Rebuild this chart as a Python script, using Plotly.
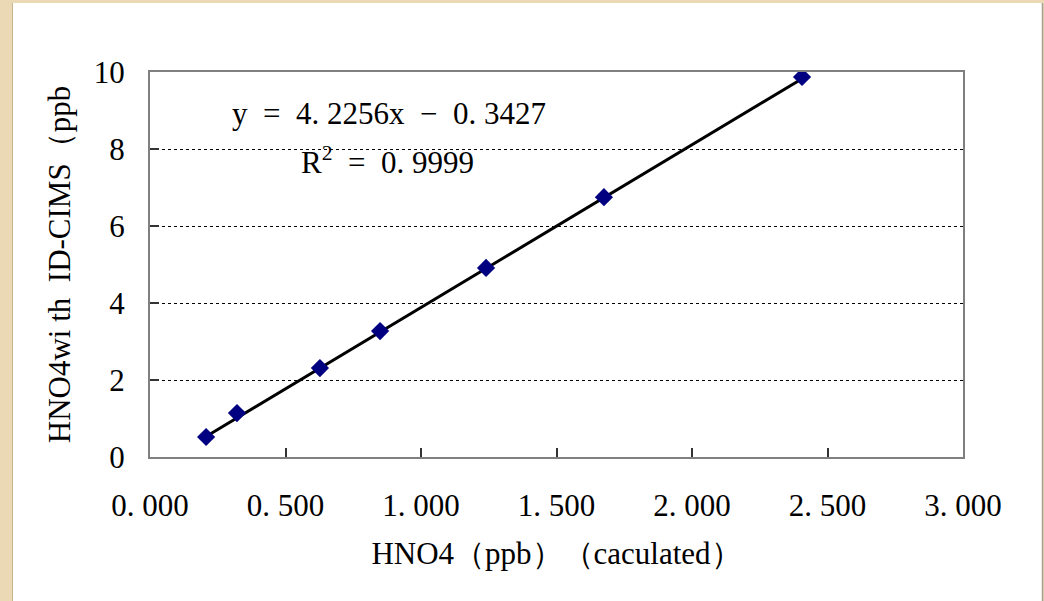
import plotly.graph_objects as go

# Data
hno4_calc = [0.207, 0.321, 0.627, 0.849, 1.240, 1.675, 2.406]
hno4_cims = [0.52, 1.14, 2.31, 3.27, 4.91, 6.75, 9.87]

slope = 4.2256
intercept = -0.3427
r2 = 0.9999

x_tickvals = [0.0, 0.5, 1.0, 1.5, 2.0, 2.5, 3.0]
x_ticktext = ["0. 000", "0. 500", "1. 000", "1. 500", "2. 000", "2. 500", "3. 000"]
y_tickvals = [0, 2, 4, 6, 8, 10]
y_ticktext = ["0", "2", "4", "6", "8", "10"]

FONT = "Liberation Serif, DejaVu Serif, serif"
FS = 31
NB = "\u00a0"

fig = go.Figure()

# Linear trendline
xl = [min(hno4_calc), max(hno4_calc)]
yl = [slope * v + intercept for v in xl]
fig.add_trace(go.Scatter(x=xl, y=yl, mode="lines",
                         line=dict(color="black", width=3), showlegend=False,
                         hoverinfo="skip"))

fig.add_trace(go.Scatter(x=hno4_calc, y=hno4_cims, mode="markers",
                         marker=dict(symbol="diamond", size=14, color="#000080",
                                     line=dict(width=0)),
                         showlegend=False))

# paper-coordinate helpers (plot area: px x 150..963, y 72..457)
L, R, T, B = 150, 963, 72, 457
def px(xp):
    return (xp - L) / (R - L)
def py(yp):
    return (B - yp) / (B - T)

beige = "#ead9b4"
shapes = [
    dict(type="rect", xref="paper", yref="paper", x0=px(0), x1=px(13), y0=py(601), y1=py(0),
         fillcolor=beige, line=dict(width=0), layer="below"),
    dict(type="rect", xref="paper", yref="paper", x0=px(0), x1=px(1044), y0=py(3), y1=py(0),
         fillcolor=beige, line=dict(width=0), layer="below"),
    dict(type="rect", xref="paper", yref="paper", x0=px(1043), x1=px(1044), y0=py(601), y1=py(0),
         fillcolor=beige, line=dict(width=0), layer="below"),
    dict(type="line", xref="paper", yref="paper", x0=px(1042.5), x1=px(1042.5), y0=py(601), y1=py(3),
         line=dict(color="#a89f90", width=1.5), layer="below"),
    dict(type="line", xref="paper", yref="paper", x0=px(12.5), x1=px(12.5), y0=py(601), y1=py(3),
         line=dict(color="#c8b48a", width=1), layer="below"),
]

def spaced(v):
    return str(v).replace(".", "." + NB)

eq_text = f"y{NB*2}={NB*2}{spaced(slope)}x{NB*2}−{NB*2}{spaced(-intercept)}"
r2_text = f"R<sup>2</sup>{NB*2}={NB*2}{spaced(r2)}"

fig.update_layout(
    width=1044, height=601,
    margin=dict(l=L, r=1044 - R, t=T, b=601 - B),
    paper_bgcolor="white", plot_bgcolor="white",
    font=dict(family=FONT, color="black", size=FS),
    shapes=shapes,
    xaxis=dict(range=[0, 3], tickvals=x_tickvals, ticktext=x_ticktext,
               ticks="inside", ticklen=9, tickwidth=1.5, tickcolor="#333",
               showline=True, linecolor="#808080", linewidth=2, mirror=True,
               showgrid=False, zeroline=False, ticklabelstandoff=20,
               tickfont=dict(size=FS),
               title=dict(text="HNO4（ppb）（caculated）", font=dict(size=FS), standoff=20)),
    yaxis=dict(range=[0, 10], tickvals=y_tickvals, ticktext=y_ticktext,
               ticks="inside", ticklen=9, tickwidth=1.5, tickcolor="#333",
               showline=True, linecolor="#808080", linewidth=2, mirror=True,
               showgrid=True, gridcolor="black", gridwidth=1, griddash="dot",
               zeroline=False, ticklabelstandoff=17,
               tickfont=dict(size=FS),
               title=dict(text=f"HNO4wi{NB}th{NB*2}ID-CIMS（ppb", font=dict(size=FS), standoff=14)),
    annotations=[
        dict(x=0.882, y=8.92, xref="x", yref="y", text=eq_text,
             showarrow=False, xanchor="center", yanchor="middle", font=dict(size=FS)),
        dict(x=0.878, y=7.71, xref="x", yref="y", text=r2_text,
             showarrow=False, xanchor="center", yanchor="middle", font=dict(size=FS)),
    ],
)

fig.write_html("out.html")
